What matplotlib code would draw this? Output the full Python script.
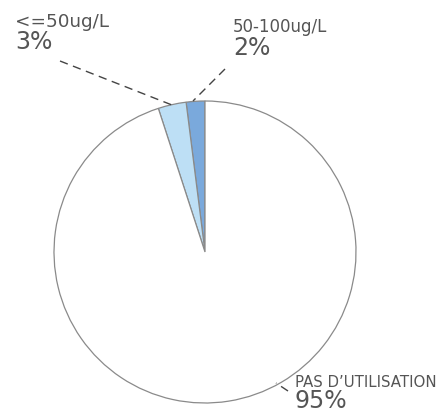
import matplotlib
matplotlib.use("Agg")
import matplotlib.pyplot as plt

labels = ["50-100ug/L", "<=50ug/L", "PAS D'UTILISATION"]
values = [2, 3, 95]
colors = ["#7aa9dc", "#bddff5", "#ffffff"]

W, H = 446, 414
cx, cy, r = 205, 253, 151

def px(x, y):
	# pixel (from top-left) -> data coords of the pie (unit radius)
	return (x - cx) / r, (cy - y) / r

fig = plt.figure(figsize=(W / 100, H / 100), dpi=100)
ax = fig.add_axes([0, 0, 1, 1])
ax.pie(values, colors=colors, startangle=90, counterclock=True,
	wedgeprops=dict(edgecolor="#8a8a8a", linewidth=0.9))
ax.set_xlim(-cx / r, (W - cx) / r)
ax.set_ylim(-(H - cy) / r, cy / r)
ax.set_aspect("auto")
ax.axis("off")

plt.rcParams["font.family"] = ["DejaVu Sans"]
grey = "#555555"

# leader lines
for (x0, y0), (x1, y1) in [((60, 62), (172, 106)), ((225, 70), (193, 102)), ((288, 392), (276, 384))]:
	a, b = px(x0, y0)
	c, d = px(x1, y1)
	ax.plot([a, c], [b, d], color="#444444", lw=1, ls=(0, (6, 4)))

texts = [
	(15, 27, labels[1], 13.2, 49, "3%"),
	(233, 32, labels[0], 12, 55, "2%"),
	(295, 387, "PAS D\u2019UTILISATION", 10.8, 408, "95%"),
]
for x, y, lab, fs, y2, pct in texts:
	ax.text(*px(x, y), lab, fontsize=fs, color=grey, va="baseline", ha="left")
	ax.text(*px(x, y2), pct, fontsize=17, color=grey, va="baseline", ha="left")

plt.savefig("out.png", dpi=100)
